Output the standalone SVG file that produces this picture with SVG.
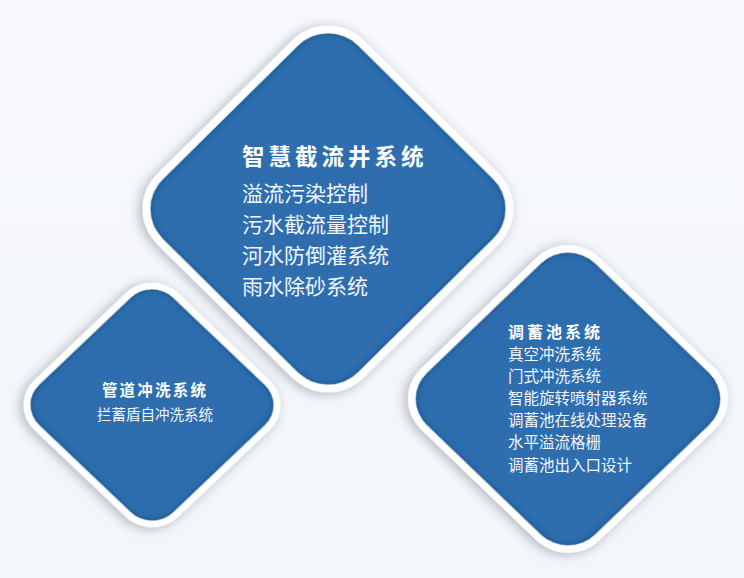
<svg xmlns="http://www.w3.org/2000/svg" width="744" height="578" viewBox="0 0 744 578">
  <defs>
    <linearGradient id="bg" x1="0" y1="0" x2="0" y2="1">
      <stop offset="0" stop-color="#f7f9fc"/>
      <stop offset="1" stop-color="#f3f6fa"/>
    </linearGradient>
    <filter id="drop" x="-30%" y="-30%" width="160%" height="160%">
      <feGaussianBlur in="SourceAlpha" stdDeviation="6"/>
      <feOffset dx="-1" dy="3" result="b"/>
      <feFlood flood-color="#7d848e" flood-opacity="0.6"/>
      <feComposite in2="b" operator="in" result="s"/>
      <feMerge>
        <feMergeNode in="s"/>
        <feMergeNode in="SourceGraphic"/>
      </feMerge>
    </filter>
    <filter id="inset" x="-10%" y="-10%" width="120%" height="120%">
      <feFlood flood-color="#184579" flood-opacity="1"/>
      <feComposite in2="SourceAlpha" operator="out"/>
      <feGaussianBlur stdDeviation="3"/>
      <feComposite in2="SourceAlpha" operator="in" result="in"/>
      <feMerge>
        <feMergeNode in="SourceGraphic"/>
        <feMergeNode in="in"/>
      </feMerge>
    </filter>
  </defs>
  <style>
    .frame { fill: #ffffff; }
    .face { fill: #2d6eae; }
    .t { font-family: "Noto Sans CJK SC", "Noto Sans", sans-serif; fill: #ffffff; }
    .title { font-weight: bold; }
    .item { font-weight: normal; fill: #f2f6fb; }
  </style>
  <rect x="0" y="0" width="744" height="578" fill="url(#bg)"/>

  <g id="node-pipe">
    <g transform="translate(152,405) scale(1.025,0.975) rotate(45)">
      <rect class="frame" x="-99.3" y="-99.3" width="198.6" height="198.6" rx="36" filter="url(#drop)"/>
      <rect class="face" x="-92.3" y="-92.3" width="184.6" height="184.6" rx="29" filter="url(#inset)"/>
    </g>
    <text class="t title" x="155" y="396" font-size="15.5" letter-spacing="2.2" text-anchor="middle">管道冲洗系统</text>
    <text class="t item" x="155" y="420" font-size="14.5" text-anchor="middle">拦蓄盾自冲洗系统</text>
  </g>

  <g id="node-tank">
    <g transform="translate(568,399) scale(1.02,0.98) rotate(45)">
      <rect class="frame" x="-123.9" y="-123.9" width="247.8" height="247.8" rx="44" filter="url(#drop)"/>
      <rect class="face" x="-116.4" y="-116.4" width="232.8" height="232.8" rx="37" filter="url(#inset)"/>
    </g>
    <text class="t title" x="508" y="338" font-size="16" letter-spacing="3">调蓄池系统</text>
    <text class="t item" x="508" y="360" font-size="15.5">真空冲洗系统</text>
    <text class="t item" x="508" y="382" font-size="15.5">门式冲洗系统</text>
    <text class="t item" x="508" y="404" font-size="15.5">智能旋转喷射器系统</text>
    <text class="t item" x="508" y="426" font-size="15.5">调蓄池在线处理设备</text>
    <text class="t item" x="508" y="448" font-size="15.5">水平溢流格栅</text>
    <text class="t item" x="508" y="471" font-size="15.5">调蓄池出入口设计</text>
  </g>

  <g id="node-well">
    <g transform="translate(328,209) scale(1.008,0.997) rotate(45)">
      <rect class="frame" x="-144.8" y="-144.8" width="289.6" height="289.6" rx="50" filter="url(#drop)"/>
      <rect class="face" x="-136.8" y="-136.8" width="273.6" height="273.6" rx="42" filter="url(#inset)"/>
    </g>
    <text class="t title" x="242" y="165" font-size="22.5" letter-spacing="4">智慧截流井系统</text>
    <text class="t item" x="242" y="201" font-size="21">溢流污染控制</text>
    <text class="t item" x="242" y="232" font-size="21">污水截流量控制</text>
    <text class="t item" x="242" y="263" font-size="21">河水防倒灌系统</text>
    <text class="t item" x="242" y="294" font-size="21">雨水除砂系统</text>
  </g>

  <g id="connectors"></g>
</svg>
